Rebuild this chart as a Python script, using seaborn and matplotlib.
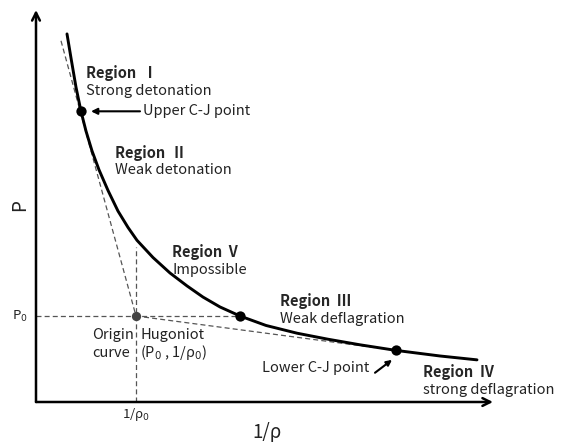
import matplotlib
matplotlib.use("Agg")
import matplotlib.pyplot as plt
import seaborn as sns
import pandas as pd

# Hugoniot curve, specific volume (1/rho) vs pressure, in units of the initial state
hugoniot_v = [0.31, 0.35, 0.40, 0.45, 0.50, 0.56, 0.63, 0.72, 0.82, 0.92,
              1.01, 1.17, 1.34, 1.51, 1.67, 1.84, 2.04, 2.30, 2.61, 2.92,
              3.24, 3.60, 4.04, 4.41]
hugoniot_p = [4.28, 4.00, 3.66, 3.38, 3.15, 2.92, 2.70, 2.46, 2.22, 2.03,
              1.88, 1.68, 1.50, 1.35, 1.22, 1.105, 1.00, 0.89, 0.80, 0.73,
              0.665, 0.60, 0.535, 0.49]

# initial state (1/rho0, P0)
origin_v = [1.0]
origin_p = [1.0]

# marked points on the curve: upper C-J, constant-pressure crossing, lower C-J
marked_v = [0.45, 2.04, 3.60]
marked_p = [3.38, 1.00, 0.60]

# Rayleigh lines through the origin state
upper_rayleigh_v = [0.25, 1.0]
upper_rayleigh_p = [4.20, 1.0]
lower_rayleigh_v = [1.0, 3.60]
lower_rayleigh_p = [1.0, 0.60]

# constant-pressure and constant-volume guides
p0_line_v = [0.0, 2.04]
p0_line_p = [1.0, 1.0]
v0_line_v = [1.0, 1.0]
v0_line_p = [0.0, 1.80]

sns.set_theme(style="white")
plt.rcParams["font.family"] = ["Noto Sans CJK KR", "DejaVu Sans"]

fig = plt.figure(figsize=(5.65, 4.42), dpi=100)
ax = fig.add_axes([36 / 565, 40 / 442, 457 / 565, 392 / 442])
ax.set_xlim(0, 4.57)
ax.set_ylim(0, 4.558)
for s in ax.spines.values():
    s.set_visible(False)
ax.set_xticks([])
ax.set_yticks([])

dash = dict(color="#555555", lw=0.9, linestyle=(0, (4, 2.5)))
ax.plot(upper_rayleigh_v, upper_rayleigh_p, **dash)
ax.plot(lower_rayleigh_v, lower_rayleigh_p, **dash)
ax.plot(p0_line_v, p0_line_p, **dash)
ax.plot(v0_line_v, v0_line_p, **dash)

curve = pd.DataFrame({"v": hugoniot_v, "p": hugoniot_p})
sns.lineplot(data=curve, x="v", y="p", ax=ax, color="black", lw=2.1,
             sort=False, estimator=None)

sns.scatterplot(x=marked_v, y=marked_p, ax=ax, color="black", s=55,
                edgecolor="black", linewidth=0, zorder=5)
sns.scatterplot(x=origin_v, y=origin_p, ax=ax, color="#444444", s=45,
                edgecolor="#444444", linewidth=0, zorder=5)
ax.set_xlabel("")
ax.set_ylabel("")

# axes drawn as arrows
arrow = dict(arrowstyle="->", lw=1.8, color="black", mutation_scale=14,
             shrinkA=0, shrinkB=0)
ax.annotate("", xy=(0, 4.558), xytext=(0, 0), arrowprops=arrow,
            annotation_clip=False)
ax.annotate("", xy=(4.57, 0), xytext=(0, 0), arrowprops=arrow,
            annotation_clip=False)

fs = 10.5
bold = dict(fontsize=fs, fontweight="bold", va="center", ha="left")
norm = dict(fontsize=fs, va="center", ha="left", color="#222222")

ax.text(0.50, 3.83, "Region  Ⅰ", **bold)
ax.text(0.50, 3.62, "Strong detonation", **norm)
ax.text(1.07, 3.38, "Upper C-J point", **norm)
ax.annotate("", xy=(0.55, 3.38), xytext=(1.04, 3.38),
            arrowprops=dict(arrowstyle="-|>", lw=1.5, color="black",
                            mutation_scale=9, shrinkA=0, shrinkB=0))

ax.text(0.79, 2.90, "Region  Ⅱ", **bold)
ax.text(0.79, 2.70, "Weak detonation", **norm)

ax.text(1.36, 1.74, "Region  V", **bold)
ax.text(1.36, 1.53, "Impossible", **norm)

ax.text(2.44, 1.17, "Region  Ⅲ", **bold)
ax.text(2.44, 0.97, "Weak deflagration", **norm)

ax.text(2.26, 0.40, "Lower C-J point", **norm)
ax.annotate("", xy=(3.56, 0.49), xytext=(3.39, 0.34),
            arrowprops=dict(arrowstyle="-|>", lw=1.5, color="black",
                            mutation_scale=8, shrinkA=0, shrinkB=0))

ax.text(3.87, 0.35, "Region  Ⅳ", **bold)
ax.text(3.87, 0.14, "strong deflagration", **norm)

ax.text(0.56, 0.78, "Origin", **norm)
ax.text(1.04, 0.78, "Hugoniot", **norm)
ax.text(0.56, 0.57, "curve", **norm)
ax.text(1.04, 0.57, "(P$_0$ , 1/ρ$_0$)", **norm)

ax.text(-0.16, 1.0, "P$_0$", fontsize=9.5, ha="center", va="center",
        color="#222222", clip_on=False)
ax.text(1.0, -0.14, "1/ρ$_0$", fontsize=9.5, ha="center", va="center",
        color="#222222", clip_on=False)
ax.text(2.31, -0.36, "1/ρ", fontsize=13.5, ha="center", va="center",
        color="#222222", clip_on=False)
ax.text(-0.16, 2.29, "P", fontsize=13.5, ha="center", va="center",
        rotation=90, color="#222222", clip_on=False)

fig.savefig("out.png", dpi=100)
